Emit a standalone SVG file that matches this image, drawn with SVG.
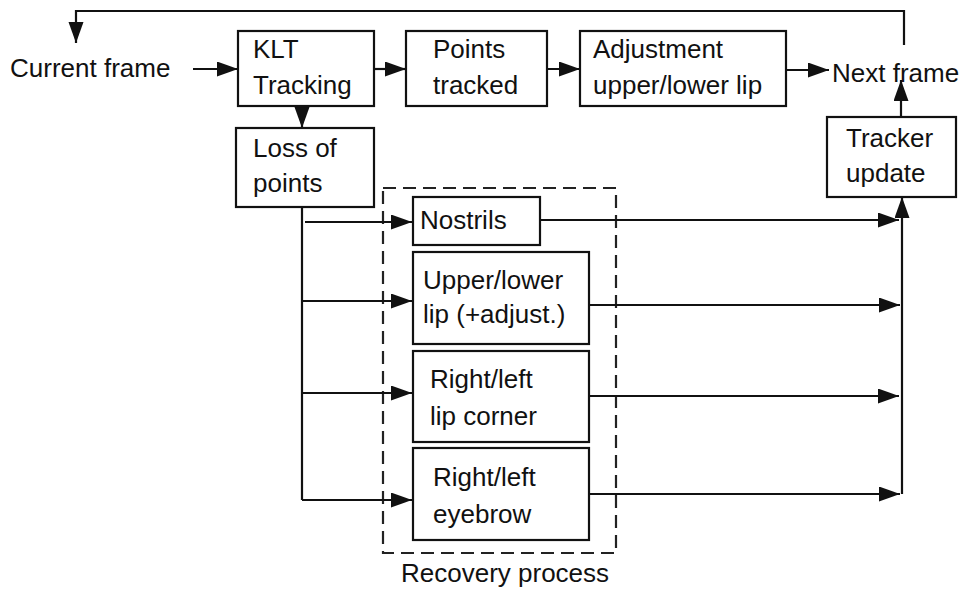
<svg xmlns="http://www.w3.org/2000/svg" width="963" height="590" viewBox="0 0 963 590">
<style>
.box{fill:#fff;stroke:#111;stroke-width:2.2}
.t{font-family:"Liberation Sans",Arial,sans-serif;font-size:26px;fill:#111}
.c{fill:none;stroke:#111;stroke-width:2.2}
.dash{fill:none;stroke:#222;stroke-width:2.2;stroke-dasharray:13 7}
</style>
<defs>
<marker id="ah" markerUnits="userSpaceOnUse" markerWidth="22" markerHeight="16" refX="21" refY="7.5" orient="auto">
<path d="M0,0 L21,7.5 L0,15 z" fill="#111"/>
</marker>
</defs>
<rect width="963" height="590" fill="#fff"/>

<g id="recovery">
<rect class="dash" x="383" y="188" width="233" height="365"/>
<text class="t" x="401" y="582">Recovery process</text>
</g>

<g id="connectors">
<path class="c" d="M904,45 V11 H76 V43" marker-end="url(#ah)"/>
<path class="c" d="M193,69 H238" marker-end="url(#ah)"/>
<path class="c" d="M374,69 H406" marker-end="url(#ah)"/>
<path class="c" d="M547,69 H580" marker-end="url(#ah)"/>
<path class="c" d="M786,70 H829" marker-end="url(#ah)"/>
<path class="c" d="M901,117 V80" marker-end="url(#ah)"/>
<path class="c" d="M302,107 V128" marker-end="url(#ah)"/>
<path class="c" d="M302,207 V500"/>
<path class="c" d="M305,222 H412" marker-end="url(#ah)"/>
<path class="c" d="M302,301 H412" marker-end="url(#ah)"/>
<path class="c" d="M302,393 H412" marker-end="url(#ah)"/>
<path class="c" d="M302,500 H412" marker-end="url(#ah)"/>
<path class="c" d="M540,220 H899" marker-end="url(#ah)"/>
<path class="c" d="M589,305 H900" marker-end="url(#ah)"/>
<path class="c" d="M587,396 H899" marker-end="url(#ah)"/>
<path class="c" d="M589,494 H900" marker-end="url(#ah)"/>
<path class="c" d="M902,494 V197" marker-end="url(#ah)"/>
</g>

<g id="current">
<text class="t" x="10" y="77">Current frame</text>
</g>

<g id="klt">
<rect class="box" x="238" y="31" width="136" height="75"/>
<text class="t" x="253" y="58">KLT</text>
<text class="t" x="253" y="94">Tracking</text>
</g>

<g id="points">
<rect class="box" x="406" y="31" width="141" height="75"/>
<text class="t" x="433" y="58">Points</text>
<text class="t" x="433" y="94">tracked</text>
</g>

<g id="adjust">
<rect class="box" x="580" y="31" width="206" height="75"/>
<text class="t" x="593" y="58">Adjustment</text>
<text class="t" x="593" y="94">upper/lower lip</text>
</g>

<g id="next">
<text class="t" x="832" y="82">Next frame</text>
</g>

<g id="tracker">
<rect class="box" x="827" y="117" width="129" height="80"/>
<text class="t" x="846" y="147">Tracker</text>
<text class="t" x="846" y="182">update</text>
</g>

<g id="loss">
<rect class="box" x="236" y="128" width="138" height="79"/>
<text class="t" x="253" y="157">Loss of</text>
<text class="t" x="253" y="192">points</text>
</g>

<g id="nostrils">
<rect class="box" x="413" y="197" width="127" height="48"/>
<text class="t" x="420" y="229">Nostrils</text>
</g>

<g id="lip">
<rect class="box" x="413" y="252" width="176" height="92"/>
<text class="t" x="423" y="289">Upper/lower</text>
<text class="t" x="423" y="323">lip (+adjust.)</text>
</g>

<g id="corner">
<rect class="box" x="413" y="351" width="176" height="91"/>
<text class="t" x="430" y="388">Right/left</text>
<text class="t" x="430" y="425">lip corner</text>
</g>

<g id="eyebrow">
<rect class="box" x="413" y="448" width="176" height="92"/>
<text class="t" x="433" y="486">Right/left</text>
<text class="t" x="433" y="523">eyebrow</text>
</g>
</svg>
